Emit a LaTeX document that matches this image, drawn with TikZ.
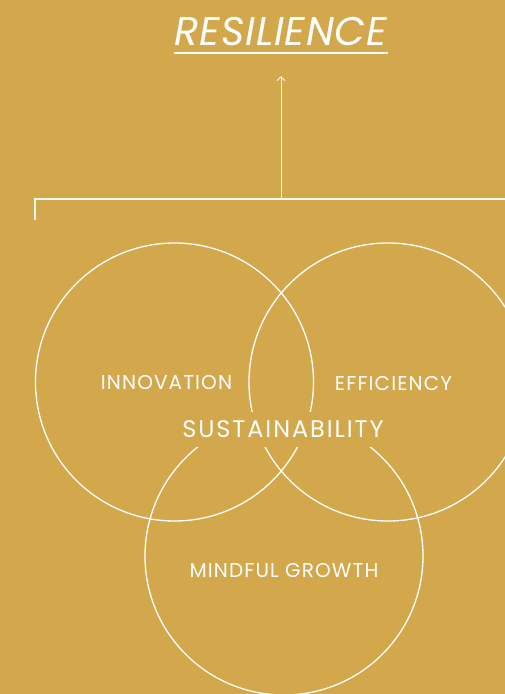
\documentclass[tikz,border=0pt]{standalone}
\usepackage{fontspec}
\setmainfont{Poppins}
\usetikzlibrary{arrows.meta,positioning,calc}
\definecolor{gold}{RGB}{211,168,76}
\definecolor{cream}{RGB}{255,250,238}

\begin{document}
\begin{tikzpicture}[
  x=1pt, y=-1pt,
  ring/.style={draw=white, line width=1.3pt, circle, minimum size=278pt, inner sep=0pt},
  label/.style={text=white, inner sep=0pt,
    font=\fontsize{20}{22}\selectfont\addfontfeature{LetterSpace=5.5}},
  link/.style={draw=cream, line width=1.3pt},
  lift/.style={-{Straight Barb[length=4pt,width=8pt]}, draw=cream, line width=1pt}
]
\fill[gold] (0,0) rectangle (505,694);
\clip (0,0) rectangle (505,694);

% heading
\node[text=white, inner sep=0pt,
  font=\fontsize{40}{42}\selectfont\itshape\addfontfeature{LetterSpace=2}] (title) at (281,31.5) {RESILIENCE};
\draw[white, line width=2.8pt] ($(title.south west)+(-1,7)$) -- ($(title.south east)+(1,7)$);

% bracket under the heading
\coordinate (bl) at (35,220);
\coordinate (br) at (510,199);
\coordinate (bm) at (281,199);
\draw[link] (bl) |- (br);
\draw[lift] (bm) -- (281,76);

% the three rings
\node[ring] (innov) at (174.5,382) {};
\node[ring] (effic) at (388,382) {};
\node[ring] (growth) at (284,556) {};

\node[label] (innovlbl) at (166.5,383) {INNOVATION};
\node[label] (efficlbl) at (393.5,383) {EFFICIENCY};
\node[label] (growthlbl) at (284,571) {MINDFUL GROWTH};

% centre label sits on top of the overlap
\node[fill=gold, text=white, minimum height=35pt, inner xsep=4pt,
  font=\fontsize{24}{26}\selectfont\addfontfeature{LetterSpace=8}] (sustain) at (283,429) {SUSTAINABILITY};
\end{tikzpicture}
\end{document}
